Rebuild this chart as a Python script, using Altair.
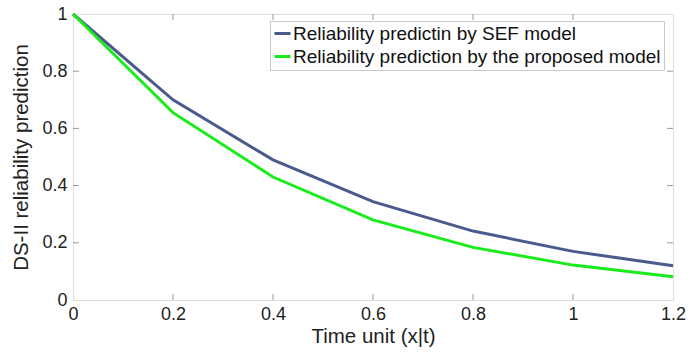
import altair as alt
import pandas as pd

# Time points and reliability predictions of the two models
time_unit = [0.0, 0.2, 0.4, 0.6, 0.8, 1.0, 1.2]
sef_model = [1.0, 0.70, 0.49, 0.344, 0.241, 0.170, 0.120]
proposed_model = [1.0, 0.655, 0.43, 0.28, 0.184, 0.122, 0.081]

series_names = [
    "Reliability predictin by SEF model",
    "Reliability prediction by the proposed model",
]
series_colors = ["#4a5a8c", "#1aeb1a"]

x_ticks = [0.2, 0.4, 0.6, 0.8, 1.0]
y_ticks = [0.2, 0.4, 0.6, 0.8]

W, H = 600, 286
FONT = "Liberation Sans"

rows = []
for t, a, b in zip(time_unit, sef_model, proposed_model):
    rows.append({"t": t, "r": a, "series": series_names[0]})
    rows.append({"t": t, "r": b, "series": series_names[1]})
df = pd.DataFrame(rows)

x_scale = alt.Scale(domain=[0, 1.2], nice=False, zero=False)
y_scale = alt.Scale(domain=[0, 1], nice=False)

axis_style = dict(
    format="~g",
    tickSize=0,
    domain=False,
    grid=False,
    labelFontSize=18,
    titleFontSize=20.5,
    labelColor="#222",
    titleColor="#222",
    labelFlush=False,
    titleFontWeight="normal",
    labelFont=FONT,
    titleFont=FONT,
)

lines = alt.Chart(df).mark_line(strokeWidth=3).encode(
    x=alt.X(
        "t:Q",
        scale=x_scale,
        title="Time unit (x|t)",
        axis=alt.Axis(
            values=[0, 0.2, 0.4, 0.6, 0.8, 1.0, 1.2],
            labelPadding=5,
            titlePadding=3,
            **axis_style,
        ),
    ),
    y=alt.Y(
        "r:Q",
        scale=y_scale,
        title="DS-II reliability prediction",
        axis=alt.Axis(
            values=[0, 0.2, 0.4, 0.6, 0.8, 1.0],
            labelPadding=6,
            titlePadding=10,
            **axis_style,
        ),
    ),
    color=alt.Color(
        "series:N",
        scale=alt.Scale(domain=series_names, range=series_colors),
        sort=series_names,
        legend=alt.Legend(
            title=None,
            orient="none",
            legendX=197,
            legendY=7,
            symbolType="stroke",
            symbolSize=256,
            symbolStrokeWidth=3,
            labelFontSize=19,
            labelFont=FONT,
            labelColor="#111",
            labelLimit=600,
            rowPadding=3,
            padding=3,
            labelOffset=1,
            strokeColor="#c8c8c8",
            fillColor="white",
        ),
    ),
)

tick_color = "#999"
xt = pd.DataFrame({"t": x_ticks})
yt = pd.DataFrame({"r": y_ticks})

x_bottom = alt.Chart(xt).mark_rule(color=tick_color, strokeWidth=1).encode(
    x="t:Q", y=alt.value(H), y2=alt.value(H - 6)
)
x_top = alt.Chart(xt).mark_rule(color=tick_color, strokeWidth=1).encode(
    x="t:Q", y=alt.value(0), y2=alt.value(6)
)
y_left = alt.Chart(yt).mark_rule(color=tick_color, strokeWidth=1).encode(
    y="r:Q", x=alt.value(0), x2=alt.value(6)
)
y_right = alt.Chart(yt).mark_rule(color=tick_color, strokeWidth=1).encode(
    y="r:Q", x=alt.value(W), x2=alt.value(W - 6)
)

chart = (
    alt.layer(x_bottom, x_top, y_left, y_right, lines)
    .properties(
        width=W,
        height=H,
        autosize=alt.AutoSizeParams(type="none"),
        padding={"left": 73, "top": 14, "right": 18, "bottom": 58},
    )
    .configure_view(stroke="#b4b4b4", strokeWidth=1)
    .configure(background="white")
)

chart.save("out.html", embed_options={"renderer": "svg", "actions": False})
